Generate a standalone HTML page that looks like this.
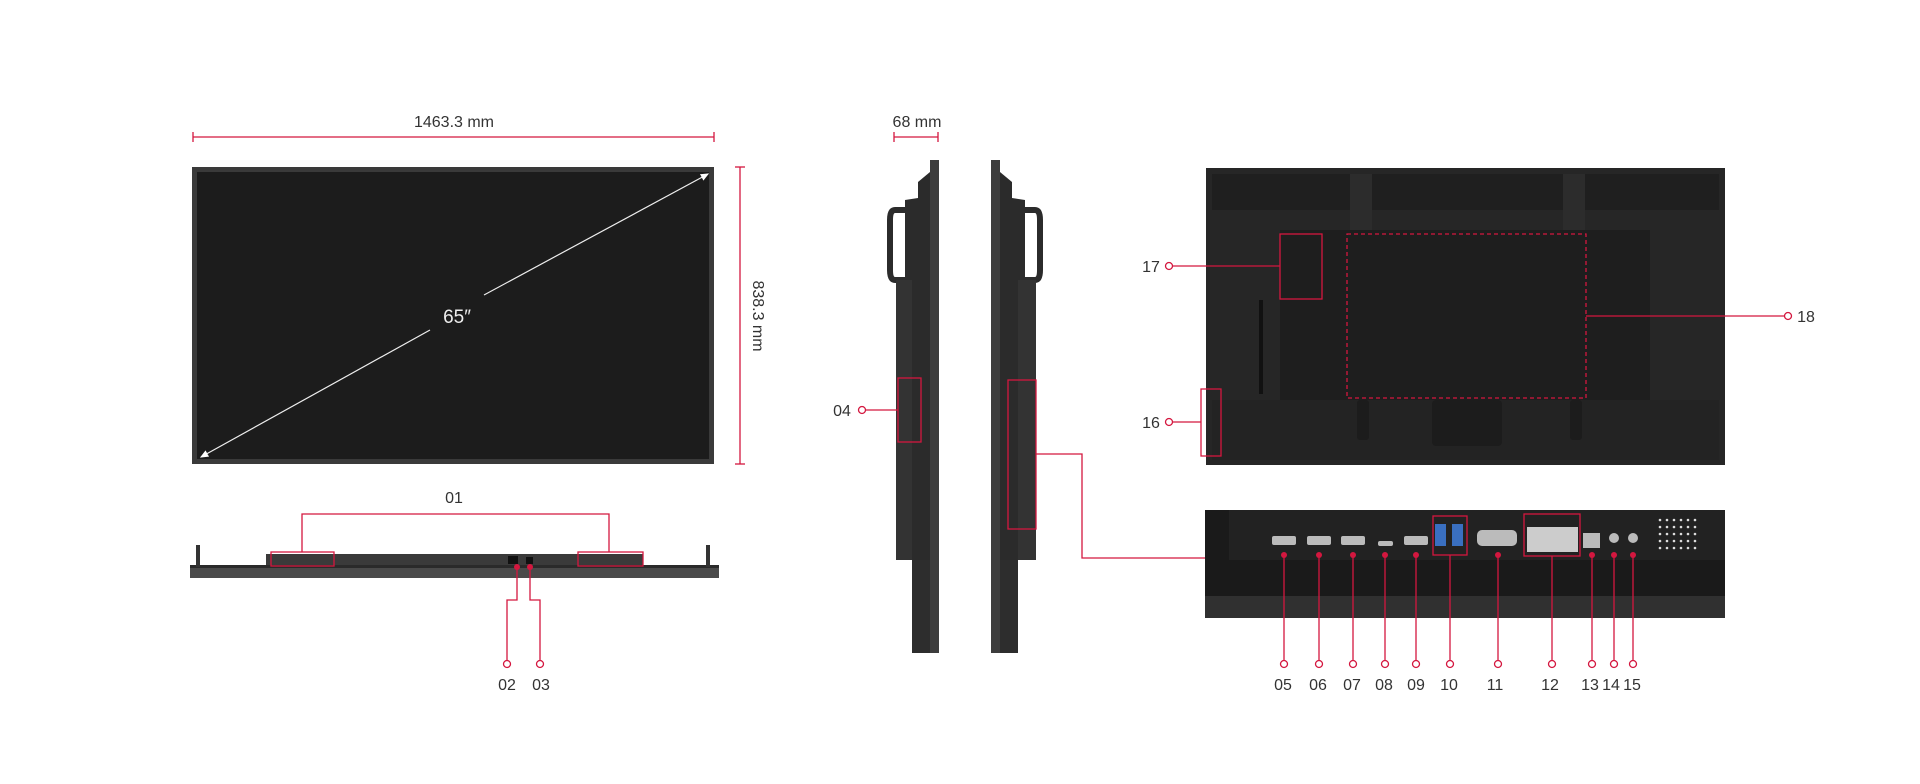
<!DOCTYPE html>
<html><head><meta charset="utf-8"><style>
html,body{margin:0;padding:0;background:#fff;}
svg{display:block;}
text{font-family:"Liberation Sans",sans-serif;fill:#333;font-size:16px;}
</style></head><body>
<svg width="1920" height="784" viewBox="0 0 1920 784" xmlns="http://www.w3.org/2000/svg">
<defs>
<marker id="ah" markerWidth="8" markerHeight="8" refX="6" refY="4" orient="auto-start-reverse"><path d="M0,1 L7,4 L0,7 z" fill="#fff"/></marker>
</defs>
<g stroke="#d4173f" stroke-width="1.3" fill="none">
<!-- width dim -->
<line x1="193" y1="137" x2="714" y2="137"/><line x1="193" y1="132" x2="193" y2="142"/><line x1="714" y1="132" x2="714" y2="142"/>
<!-- height dim -->
<line x1="740" y1="167" x2="740" y2="464"/><line x1="735" y1="167" x2="745" y2="167"/><line x1="735" y1="464" x2="745" y2="464"/>
<!-- 68mm -->
<line x1="894" y1="137" x2="938" y2="137"/><line x1="894" y1="132" x2="894" y2="142"/><line x1="938" y1="132" x2="938" y2="142"/>
</g>
<text x="454" y="127" text-anchor="middle">1463.3 mm</text>
<text x="917" y="127" text-anchor="middle">68 mm</text>
<text transform="translate(753,316) rotate(90)" text-anchor="middle">838.3 mm</text>

<!-- front screen -->
<rect x="192" y="167" width="522" height="297" fill="#3a3a3a"/>
<rect x="197" y="172" width="512" height="287" fill="#1c1c1c"/>
<line x1="201" y1="457" x2="430" y2="330" stroke="#eee" stroke-width="1.2" marker-start="url(#ah)"/>
<line x1="484" y1="295" x2="708" y2="174" stroke="#eee" stroke-width="1.2" marker-end="url(#ah)"/>
<text x="457" y="323" text-anchor="middle" style="fill:#eee;font-size:19px">65″</text>

<!-- bottom view -->
<rect x="266" y="554" width="377" height="11" fill="#3a3a3a"/>
<rect x="190" y="565" width="529" height="13" fill="#4a4a4a"/>
<rect x="190" y="565" width="529" height="3" fill="#2a2a2a"/>
<rect x="196" y="545" width="4" height="22" fill="#333"/><rect x="706" y="545" width="4" height="22" fill="#333"/>
<rect x="508" y="556" width="10" height="8" fill="#111"/><rect x="526" y="557" width="7" height="7" fill="#111"/>
<g stroke="#d4173f" stroke-width="1.3" fill="none">
<rect x="271" y="552" width="63" height="14"/><rect x="578" y="552" width="65" height="14"/>
<polyline points="302,552 302,514 609,514 609,552"/>
<polyline points="517,567 517,600 507,600 507,660"/>
<polyline points="530,567 530,600 540,600 540,660"/>
<circle cx="507" cy="664" r="3.5" fill="#fff"/><circle cx="540" cy="664" r="3.5" fill="#fff"/>
</g>
<circle cx="517" cy="567" r="3" fill="#d4173f"/><circle cx="530" cy="567" r="3" fill="#d4173f"/>
<text x="454" y="503" text-anchor="middle">01</text>
<text x="507" y="690" text-anchor="middle">02</text>
<text x="541" y="690" text-anchor="middle">03</text>

<!-- left side view -->
<rect x="930" y="160" width="9" height="493" fill="#3d3d3d"/>
<path d="M918,182 L930,172 L930,620 L912,620 L912,280 L905,280 L905,200 L918,198 Z" fill="#2b2b2b"/>
<path d="M895,210 L918,210 L918,280 L895,280 Q890,280 890,270 L890,220 Q890,210 895,210 Z" fill="none" stroke="#2b2b2b" stroke-width="6"/>
<rect x="896" y="280" width="16" height="280" fill="#333"/>
<rect x="912" y="560" width="18" height="93" fill="#2d2d2d"/>
<!-- right side view -->
<rect x="991" y="160" width="9" height="493" fill="#3d3d3d"/>
<path d="M1000,172 L1012,182 L1012,198 L1025,200 L1025,280 L1018,280 L1018,620 L1000,620 Z" fill="#2b2b2b"/>
<path d="M1012,210 L1035,210 Q1040,210 1040,220 L1040,270 Q1040,280 1035,280 L1012,280" fill="none" stroke="#2b2b2b" stroke-width="6"/>
<rect x="1018" y="280" width="18" height="280" fill="#333"/>
<rect x="1000" y="560" width="18" height="93" fill="#2d2d2d"/>
<g stroke="#d4173f" stroke-width="1.3" fill="none">
<rect x="898" y="378" width="23" height="64"/>
<line x1="866" y1="410" x2="898" y2="410"/><circle cx="862" cy="410" r="3.5" fill="#fff"/>
<rect x="1008" y="380" width="28" height="149"/>
<polyline points="1036,454 1082,454 1082,558 1206,558"/>
</g>
<text x="842" y="416" text-anchor="middle">04</text>

<!-- back view -->
<rect x="1206" y="168" width="519" height="297" fill="#262626"/>
<rect x="1212" y="174" width="507" height="36" fill="#1f1f1f"/>
<rect x="1350" y="174" width="22" height="56" fill="#2c2c2c"/><rect x="1563" y="174" width="22" height="56" fill="#2c2c2c"/>
<rect x="1280" y="230" width="370" height="170" fill="#1e1e1e"/>
<rect x="1212" y="400" width="507" height="60" fill="#232323"/>
<rect x="1357" y="400" width="12" height="40" rx="3" fill="#1c1c1c"/><rect x="1570" y="400" width="12" height="40" rx="3" fill="#1c1c1c"/>
<rect x="1432" y="400" width="70" height="46" rx="4" fill="#1c1c1c"/>
<rect x="1259" y="300" width="4" height="94" fill="#111"/>
<g stroke="#d4173f" stroke-width="1.3" fill="none">
<rect x="1280" y="234" width="42" height="65"/>
<rect x="1347" y="234" width="239" height="164" stroke-dasharray="4,3"/>
<rect x="1201" y="389" width="20" height="67"/>
<line x1="1173" y1="266" x2="1280" y2="266"/><circle cx="1169" cy="266" r="3.5" fill="#fff"/>
<line x1="1586" y1="316" x2="1784" y2="316"/><circle cx="1788" cy="316" r="3.5" fill="#fff"/>
<line x1="1173" y1="422" x2="1201" y2="422"/><circle cx="1169" cy="422" r="3.5" fill="#fff"/>
</g>
<text x="1151" y="272" text-anchor="middle">17</text>
<text x="1151" y="428" text-anchor="middle">16</text>
<text x="1806" y="322" text-anchor="middle">18</text>

<!-- ports view -->
<rect x="1205" y="510" width="520" height="108" fill="#2c2c2c"/>
<rect x="1205" y="510" width="520" height="50" fill="#222"/>
<rect x="1205" y="560" width="520" height="36" fill="#1a1a1a"/>
<rect x="1205" y="596" width="520" height="22" fill="#303030"/>
<rect x="1205" y="510" width="24" height="50" fill="#1a1a1a"/>
<g fill="#bbb">
<rect x="1272" y="536" width="24" height="9" rx="2"/><rect x="1307" y="536" width="24" height="9" rx="2"/><rect x="1341" y="536" width="24" height="9" rx="2"/>
<rect x="1378" y="541" width="15" height="5" rx="2"/><rect x="1404" y="536" width="24" height="9" rx="2"/>
<rect x="1435" y="524" width="11" height="22" fill="#3a6fc0"/><rect x="1452" y="524" width="11" height="22" fill="#3a6fc0"/>
<rect x="1477" y="530" width="40" height="16" rx="5"/>
<rect x="1527" y="527" width="51" height="25" fill="#ccc"/>
<rect x="1583" y="533" width="17" height="15"/>
<circle cx="1614" cy="538" r="5"/><circle cx="1633" cy="538" r="5"/>
</g>
<g fill="#fff"><rect x="1650" y="518" width="48" height="30" fill="none"/></g>
<g fill="#ddd">
<circle cx="1660" cy="520" r="1.3"/><circle cx="1667" cy="520" r="1.3"/><circle cx="1674" cy="520" r="1.3"/><circle cx="1681" cy="520" r="1.3"/><circle cx="1688" cy="520" r="1.3"/><circle cx="1695" cy="520" r="1.3"/>
<circle cx="1660" cy="527" r="1.3"/><circle cx="1667" cy="527" r="1.3"/><circle cx="1674" cy="527" r="1.3"/><circle cx="1681" cy="527" r="1.3"/><circle cx="1688" cy="527" r="1.3"/><circle cx="1695" cy="527" r="1.3"/>
<circle cx="1660" cy="534" r="1.3"/><circle cx="1667" cy="534" r="1.3"/><circle cx="1674" cy="534" r="1.3"/><circle cx="1681" cy="534" r="1.3"/><circle cx="1688" cy="534" r="1.3"/><circle cx="1695" cy="534" r="1.3"/>
<circle cx="1660" cy="541" r="1.3"/><circle cx="1667" cy="541" r="1.3"/><circle cx="1674" cy="541" r="1.3"/><circle cx="1681" cy="541" r="1.3"/><circle cx="1688" cy="541" r="1.3"/><circle cx="1695" cy="541" r="1.3"/>
<circle cx="1660" cy="548" r="1.3"/><circle cx="1667" cy="548" r="1.3"/><circle cx="1674" cy="548" r="1.3"/><circle cx="1681" cy="548" r="1.3"/><circle cx="1688" cy="548" r="1.3"/><circle cx="1695" cy="548" r="1.3"/>
</g>
<g stroke="#d4173f" stroke-width="1.3" fill="none">
<rect x="1433" y="516" width="34" height="39"/><rect x="1524" y="514" width="56" height="42"/>
<line x1="1284" y1="555" x2="1284" y2="660"/><line x1="1319" y1="555" x2="1319" y2="660"/><line x1="1353" y1="555" x2="1353" y2="660"/>
<line x1="1385" y1="555" x2="1385" y2="660"/><line x1="1416" y1="555" x2="1416" y2="660"/><line x1="1450" y1="555" x2="1450" y2="660"/>
<line x1="1498" y1="555" x2="1498" y2="660"/><line x1="1552" y1="556" x2="1552" y2="660"/><line x1="1592" y1="555" x2="1592" y2="660"/>
<line x1="1614" y1="555" x2="1614" y2="660"/><line x1="1633" y1="555" x2="1633" y2="660"/>
<g fill="#fff">
<circle cx="1284" cy="664" r="3.5"/><circle cx="1319" cy="664" r="3.5"/><circle cx="1353" cy="664" r="3.5"/><circle cx="1385" cy="664" r="3.5"/>
<circle cx="1416" cy="664" r="3.5"/><circle cx="1450" cy="664" r="3.5"/><circle cx="1498" cy="664" r="3.5"/><circle cx="1552" cy="664" r="3.5"/>
<circle cx="1592" cy="664" r="3.5"/><circle cx="1614" cy="664" r="3.5"/><circle cx="1633" cy="664" r="3.5"/>
</g></g>
<g fill="#d4173f">
<circle cx="1284" cy="555" r="3"/><circle cx="1319" cy="555" r="3"/><circle cx="1353" cy="555" r="3"/><circle cx="1385" cy="555" r="3"/>
<circle cx="1416" cy="555" r="3"/><circle cx="1498" cy="555" r="3"/><circle cx="1592" cy="555" r="3"/><circle cx="1614" cy="555" r="3"/><circle cx="1633" cy="555" r="3"/>
</g>
<g text-anchor="middle">
<text x="1283" y="690">05</text><text x="1318" y="690">06</text><text x="1352" y="690">07</text><text x="1384" y="690">08</text>
<text x="1416" y="690">09</text><text x="1449" y="690">10</text><text x="1495" y="690">11</text><text x="1550" y="690">12</text>
<text x="1590" y="690">13</text><text x="1611" y="690">14</text><text x="1632" y="690">15</text>
</g>
</svg>
</body></html>
